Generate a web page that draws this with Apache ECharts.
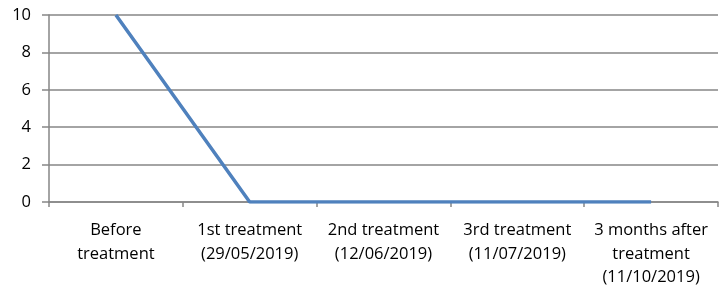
<!DOCTYPE html>
<html><head><meta charset="utf-8">
<script src="https://cdn.jsdelivr.net/npm/echarts@6/dist/echarts.min.js"></script>
<style>html,body{margin:0;padding:0;background:#fff}#c{width:725px;height:298px}</style>
</head><body><div id="c"></div>
<script>
const categories = ["Before\ntreatment", "1st treatment\n(29/05/2019)", "2nd treatment\n(12/06/2019)", "3rd treatment\n(11/07/2019)", "3 months after\ntreatment\n(11/10/2019)"];
const values = [10, 0, 0, 0, 0];
const yTicks = {min: 0, max: 10, interval: 2};
const chart = echarts.init(document.getElementById('c'), null, {renderer: 'canvas'});
chart.setOption({
  animation: false,
  grid: {left: 49, right: 7, top: 15, bottom: 96},
  xAxis: {
    type: 'category', data: categories, boundaryGap: true,
    axisLine: {lineStyle: {color: '#868686', width: 1.5}},
    axisTick: {show: true, length: 5, lineStyle: {color: '#868686', width: 1.5}},
    axisLabel: {color: '#000', fontSize: 16.5, fontFamily: 'Open Sans', lineHeight: 23.5, margin: 17, interval: 0}
  },
  yAxis: {
    type: 'value', min: yTicks.min, max: yTicks.max, interval: yTicks.interval,
    axisLine: {show: true, lineStyle: {color: '#868686', width: 1.5}},
    axisTick: {show: true, length: 7, lineStyle: {color: '#868686', width: 1.5}},
    splitLine: {lineStyle: {color: '#868686', width: 1.5}},
    axisLabel: {color: '#000', fontSize: 16.5, fontFamily: 'Open Sans', margin: 18}
  },
  series: [{
    type: 'line', data: values, symbol: 'none',
    lineStyle: {color: '#4f81bd', width: 3.5}
  }]
});
</script></body></html>
